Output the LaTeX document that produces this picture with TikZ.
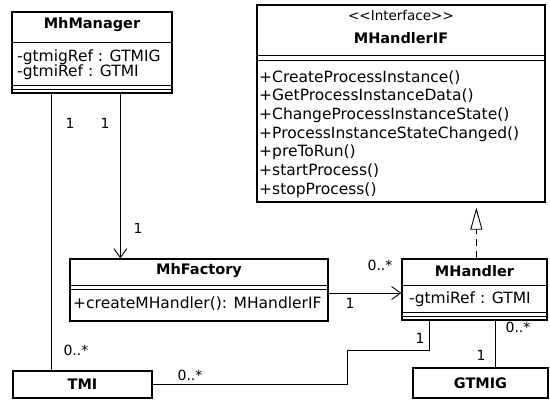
\documentclass[tikz,border=0pt]{standalone}
\usepackage{fontspec}
\setmainfont{DejaVu Sans}
\usetikzlibrary{arrows.meta,positioning}

\begin{document}
\begin{tikzpicture}[x=1pt, y=-1pt,
                    box/.style={draw, line width=1.3pt, inner sep=0pt},
                    title/.style={font=\fontsize{14.5}{16}\selectfont\bfseries, inner sep=0pt},
                    member/.style={font=\fontsize{15.5}{18.7}\selectfont, anchor=west, inner sep=0pt, align=left},
                    mult/.style={font=\fontsize{14}{16}\selectfont, inner sep=0pt},
                    sep/.style={line width=1pt},
                    assoc/.style={line width=0.9pt},
                    nav/.style={assoc, -{Straight Barb[length=9pt, width=13pt]}}]
  \useasboundingbox (0,0) rectangle (550,400);

  % classes
  \node[box, minimum width=160pt, minimum height=81pt] (mgr) at (92,52.5) {};
  \node[box, minimum width=288pt, minimum height=197pt] (hif) at (401,103.5) {};
  \node[box, minimum width=258pt, minimum height=62pt] (fac) at (199,290) {};
  \node[box, minimum width=145pt, minimum height=61pt] (hdl) at (474.5,289.5) {};
  \node[box, minimum width=139pt, minimum height=27pt] (tmi) at (82.5,384.5) {};
  \node[box, minimum width=135pt, minimum height=30pt] (gtmig) at (480.5,383) {};

  % MhManager
  \node[title] (mgrName) at (92,25) {MhManager};
  \draw[sep] (mgr.west |- 0,42) -- (mgr.east |- 0,42);
  \node[member] (mgrAttr1) at (17,57) {-gtmigRef : GTMIG};
  \node[member] (mgrAttr2) at (17,72) {-gtmiRef : GTMI};
  \draw[sep] (mgr.west |- 0,85) -- (mgr.east |- 0,85);
  \draw[sep] (mgr.west |- 0,89) -- (mgr.east |- 0,89);

  % MHandlerIF
  \node[font=\fontsize{13.5}{15}\selectfont, inner sep=0pt] (hifStereo) at (401,15) {<{}<Interface>{}>};
  \node[title] (hifName) at (401,38) {MHandlerIF};
  \draw[sep] (hif.west |- 0,55) -- (hif.east |- 0,55);
  \draw[sep] (hif.west |- 0,60) -- (hif.east |- 0,60);
  \node[member] (hifOps) at (259,134) {+CreateProcessInstance()\\
    +GetProcessInstanceData()\\
    +ChangeProcessInstanceState()\\
    +ProcessInstanceStateChanged()\\
    +preToRun()\\
    +startProcess()\\
    +stopProcess()};

  % MhFactory
  \node[title] (facName) at (199,271) {MhFactory};
  \draw[sep] (fac.west |- 0,285) -- (fac.east |- 0,285);
  \draw[sep] (fac.west |- 0,289) -- (fac.east |- 0,289);
  \node[member] (facOps) at (73,304) {+createMHandler(): MHandlerIF};

  % MHandler
  \node[title] (hdlName) at (474.5,271) {MHandler};
  \draw[sep] (hdl.west |- 0,285) -- (hdl.east |- 0,285);
  \node[member] (hdlAttr) at (409,299) {-gtmiRef : GTMI};
  \draw[sep] (hdl.west |- 0,312) -- (hdl.east |- 0,312);
  \draw[sep] (hdl.west |- 0,316) -- (hdl.east |- 0,316);

  % TMI, GTMIG
  \node[title] (tmiName) at (82.5,384.5) {TMI};
  \node[title] (gtmigName) at (480.5,383) {GTMIG};

  % connector ends
  \coordinate (mgrL) at ([xshift=40pt]mgr.south west);
  \coordinate (mgrR) at ([xshift=109pt]mgr.south west);
  \coordinate (facR) at ([yshift=-3pt]fac.east);
  \coordinate (hdlL) at ([xshift=28pt]hdl.south west);
  \coordinate (hdlR) at ([xshift=94pt]hdl.south west);
  \coordinate (hdlT) at ([xshift=75pt]hdl.north west);

  % associations
  \draw[assoc] (mgrL) -- (mgrL |- tmi.north);
  \draw[nav] (mgrR) -- (mgrR |- fac.north);
  \draw[nav] (facR) -- (facR -| hdl.west);
  \draw[assoc] (hdlL) |- (347,350) |- (tmi.east);
  \draw[assoc] (hdlR) -- (hdlR |- gtmig.north);
  \draw[assoc, dashed, dash pattern=on 7pt off 5pt,
        -{Triangle[open, length=22pt, width=12pt]}, shorten >=5pt]
        (hdlT) -- (hdlT |- hif.south);

  % multiplicities
  \node[mult] (m1) at (70,123) {1};
  \node[mult] (m2) at (105,123) {1};
  \node[mult] (m3) at (138,228) {1};
  \node[mult] (m4) at (76,350) {0..*};
  \node[mult] (m5) at (380,265) {0..*};
  \node[mult] (m6) at (350,303) {1};
  \node[mult] (m7) at (420,338) {1};
  \node[mult] (m8) at (190,375) {0..*};
  \node[mult] (m9) at (518,327) {0..*};
  \node[mult] (m10) at (481,355) {1};
\end{tikzpicture}
\end{document}
